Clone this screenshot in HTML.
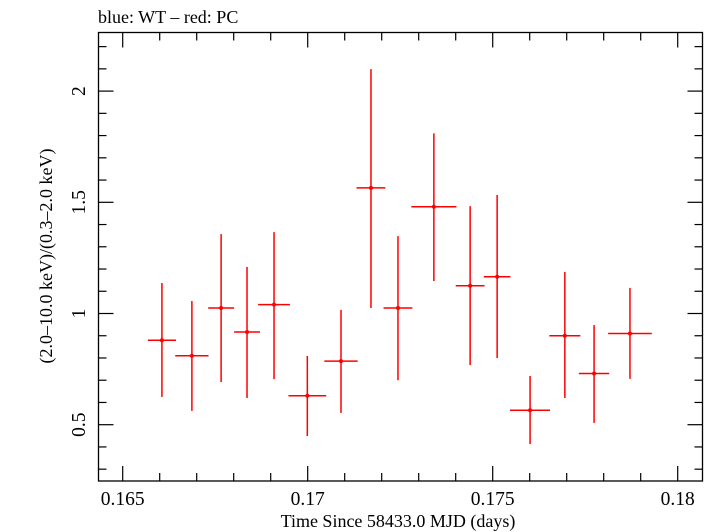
<!DOCTYPE html>
<html><head><meta charset="utf-8"><style>
body{margin:0;background:#fff}
svg{display:block;font-family:"Liberation Serif",serif}
</style></head><body>
<svg id="chart" width="716" height="532" viewBox="0 0 716 532" xmlns="http://www.w3.org/2000/svg">
<text x="98" y="23" font-size="18">blue: WT – red: PC</text>
<rect x="98.5" y="32.5" width="604" height="448.5" fill="none" stroke="#000" stroke-width="1.3"/>
<g id="axes"></g>
<g id="marks"></g>
<text x="398" y="527" font-size="18" text-anchor="middle">Time Since 58433.0 MJD (days)</text>
<text transform="translate(52,256) rotate(-90)" font-size="18" text-anchor="middle">(2.0–10.0 keV)/(0.3–2.0 keV)</text>
</svg>
<script>
const times=[0.16606,0.16687,0.16766,0.16836,0.16909,0.16999,0.17090,0.17171,0.17244,0.17341,0.17439,0.17512,0.17601,0.17695,0.17774,0.17871];
const halfWidths=[0.00038,0.00045,0.00035,0.00035,0.00043,0.00051,0.00045,0.00039,0.00039,0.00061,0.00039,0.00036,0.00054,0.00042,0.00041,0.00059];
const ratios=[0.88,0.81,1.025,0.917,1.04,0.63,0.786,1.565,1.025,1.48,1.125,1.165,0.565,0.90,0.73,0.91];
const errHigh=[1.137,1.056,1.357,1.209,1.366,0.809,1.016,2.099,1.348,1.81,1.483,1.533,0.719,1.187,0.948,1.115];
const errLow=[0.625,0.562,0.692,0.62,0.705,0.449,0.553,1.025,0.70,1.146,0.768,0.80,0.413,0.62,0.508,0.706];
const xTickLabels=["0.165","0.17","0.175","0.18"];
const xTickValues=[0.165,0.17,0.175,0.18];
const yTickLabels=["0.5","1","1.5","2"];
const yTickValues=[0.5,1,1.5,2];

const NS="http://www.w3.org/2000/svg";
const L=98.5,R=702.5,T=32.5,B=481;
const xScale=t=>122.7+(t-0.165)*37000;
const yScale=v=>313.5-(v-1)*222.4;
function mk(tag,attrs,parent){const e=document.createElementNS(NS,tag);for(const k in attrs)e.setAttribute(k,attrs[k]);parent.appendChild(e);return e;}
const axes=document.getElementById('axes'),marks=document.getElementById('marks');
for(let i=0;i<=15;i++){const v=0.1645+i*0.001;const t=Math.round(v*1000)/1000;if(t<0.1645||t>0.181)continue;const x=xScale(t);
 const major=Math.abs((t*1000)%5)<1e-6||Math.abs((t*1000)%5-5)<1e-6;const len=major?15:8;
 let l=mk('line',{x1:x,x2:x,y1:B,y2:B-len,stroke:'#000','stroke-width':1.2},axes);
 
 let l2=mk('line',{x1:x,x2:x,y1:T,y2:T+len,stroke:'#000','stroke-width':1.2},axes);
 }
xTickValues.forEach((v,i)=>{const t=mk('text',{x:xScale(v),y:505,'font-size':19.5,'text-anchor':'middle'},axes);t.textContent=xTickLabels[i];
 });
for(let i=3;i<=22;i++){const v=i/10;const y=yScale(v);const major=i%5===0;const len=major?15:8;
 let l=mk('line',{x1:L,x2:L+len,y1:y,y2:y,stroke:'#000','stroke-width':1.2},axes);
 
 let l2=mk('line',{x1:R,x2:R-len,y1:y,y2:y,stroke:'#000','stroke-width':1.2},axes);
 }
yTickValues.forEach((v,i)=>{const y=yScale(v);const t=mk('text',{transform:`translate(85,${y}) rotate(-90)`,'font-size':19.5,'text-anchor':'middle'},axes);t.textContent=yTickLabels[i];
 });
times.forEach((t,i)=>{const x=xScale(t),y=yScale(ratios[i]);
 const g=mk('g',{},marks);
 
 mk('line',{x1:xScale(t-halfWidths[i]),x2:xScale(t+halfWidths[i]),y1:y,y2:y,stroke:'#f00','stroke-width':1.5},g);
 mk('line',{x1:x,x2:x,y1:yScale(errLow[i]),y2:yScale(errHigh[i]),stroke:'#f00','stroke-width':1.5},g);
 mk('circle',{cx:x,cy:y,r:2,fill:'#f00'},g);});
</script>
</body></html>
